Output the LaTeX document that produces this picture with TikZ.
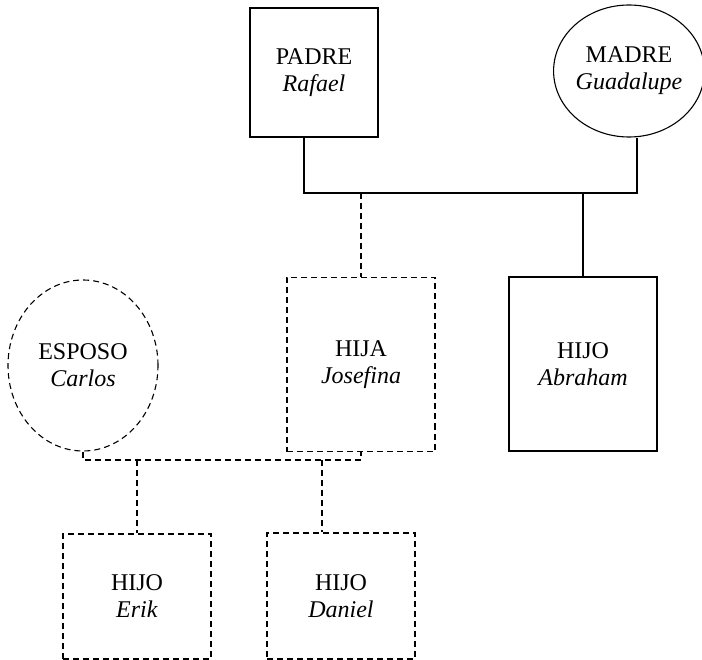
\documentclass[tikz,border=0pt]{standalone}
\usepackage{fontspec}
\setmainfont{Liberation Serif}
\usetikzlibrary{shapes.geometric}
\begin{document}
\begin{tikzpicture}[x=1pt,y=-1pt,
  line width=1.1pt,
  person/.style={align=center, inner sep=0pt,
    font=\fontsize{24}{27}\selectfont},
  boxsolid/.style={person, draw, rectangle},
  boxdash/.style={person, draw, rectangle, dashed},
  ovalsolid/.style={person, draw, ellipse},
  ovaldash/.style={person, draw, ellipse, dashed},
  link/.style={draw},
  linkdash/.style={draw, dashed},
  dashed/.style={dash pattern=on 6pt off 4pt}]
\useasboundingbox (0,0) rectangle (702,660);

% first generation
\node[boxsolid, minimum width=128pt, minimum height=129pt] (padre) at (314,72.5)
  {PADRE\\\textit{Rafael}};
\node[ovalsolid, minimum width=142pt, minimum height=132pt] (madre) at (629,71)
  {MADRE\\\textit{Guadalupe}};

% second generation
\node[ovaldash, minimum width=150pt, minimum height=171pt] (esposo) at (83,365.5)
  {ESPOSO\\\textit{Carlos}};
\node[boxdash, minimum width=148pt, minimum height=174pt] (hija) at (361,364.5)
  {HIJA\\\textit{Josefina}};
\node[boxsolid, minimum width=148pt, minimum height=174pt] (abraham) at (583,364)
  {HIJO\\\textit{Abraham}};

% third generation
\node[boxdash, minimum width=148pt, minimum height=125pt] (erik) at (137,596.5)
  {HIJO\\\textit{Erik}};
\node[boxdash, minimum width=148pt, minimum height=126pt] (daniel) at (341,596)
  {HIJO\\\textit{Daniel}};

% marriage bars
\coordinate (p1) at (304,193);
\coordinate (m1) at (637,193);
\coordinate (lb) at (0,460);
\coordinate (d2) at (322,460);

\draw[link] (padre.south -| p1) -- (p1) -- (m1) -- (madre.south -| m1);
\draw[linkdash] (hija.north |- p1) -- (hija.north);
\draw[link] (abraham.north |- p1) -- (abraham.north);

\draw[linkdash] (esposo.south) -- (esposo.south |- lb) -- (hija.south |- lb) -- (hija.south);
\draw[linkdash, line width=1.5pt] (erik.north |- lb) -- (erik.north);
\draw[linkdash, line width=1.5pt] (d2) -- (d2 |- daniel.north);
\end{tikzpicture}
\end{document}
